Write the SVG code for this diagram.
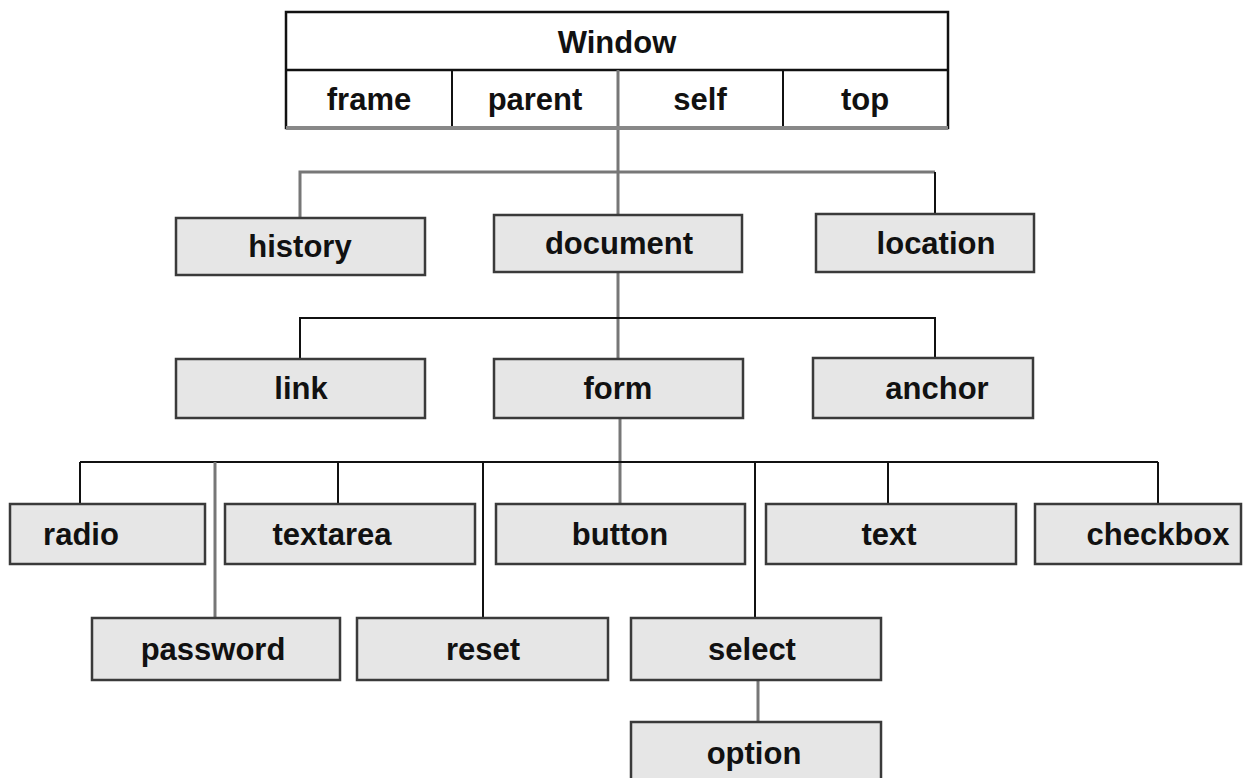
<svg xmlns="http://www.w3.org/2000/svg" width="1247" height="778" viewBox="0 0 1247 778">
<style>
.box{fill:#e6e6e6;stroke:#3a3a3a;stroke-width:2.5}
.win{fill:#ffffff;stroke:#111;stroke-width:2.5}
.lbl{font-family:"Liberation Sans",Arial,sans-serif;font-weight:bold;font-size:31px;fill:#111;text-anchor:middle}
.cg{stroke:#777;stroke-width:3;fill:none}
.cb{stroke:#111;stroke-width:2;fill:none}
</style>
<rect width="1247" height="778" fill="#ffffff"/>
<g id="connectors">
<line class="cg" x1="618" y1="70" x2="618" y2="215"/>
<polyline class="cg" points="300,218 300,172 935,172"/>
<line class="cb" x1="935" y1="172" x2="935" y2="214"/>
<line class="cg" x1="618" y1="272" x2="618" y2="359"/>
<polyline class="cb" points="300,359 300,318 935,318 935,358"/>
<line class="cg" x1="620" y1="418" x2="620" y2="504"/>
<line class="cb" x1="80" y1="462" x2="1158" y2="462"/>
<line class="cb" x1="80" y1="462" x2="80" y2="504"/>
<line class="cb" x1="338" y1="462" x2="338" y2="504"/>
<line class="cb" x1="888" y1="462" x2="888" y2="504"/>
<line class="cb" x1="1158" y1="462" x2="1158" y2="504"/>
<line class="cg" x1="215" y1="462" x2="215" y2="618"/>
<line class="cb" x1="483" y1="462" x2="483" y2="618"/>
<line class="cb" x1="755" y1="462" x2="755" y2="618" stroke-width="1.5"/>
<line class="cg" x1="758" y1="680" x2="758" y2="722"/>
</g>
<g id="window">
<rect class="win" x="286" y="12" width="662" height="116"/>
<line x1="286" y1="70" x2="948" y2="70" stroke="#111" stroke-width="2.5"/>
<line x1="452" y1="70" x2="452" y2="128" stroke="#111" stroke-width="2"/>
<line x1="618" y1="70" x2="618" y2="128" stroke="#777" stroke-width="3"/>
<line x1="783" y1="70" x2="783" y2="128" stroke="#111" stroke-width="2"/>
<line x1="286" y1="128" x2="948" y2="128" stroke="#888" stroke-width="4"/>
<text class="lbl" x="617" y="53">Window</text>
<text class="lbl" x="369" y="110">frame</text>
<text class="lbl" x="535" y="110">parent</text>
<text class="lbl" x="700" y="110">self</text>
<text class="lbl" x="865" y="110">top</text>
</g>
<g id="history"><rect class="box" x="176" y="218" width="249" height="57"/><text class="lbl" x="300" y="257">history</text></g>
<g id="document"><rect class="box" x="494" y="215" width="248" height="57"/><text class="lbl" x="619" y="254">document</text></g>
<g id="location"><rect class="box" x="816" y="214" width="218" height="58"/><text class="lbl" x="936" y="254">location</text></g>
<g id="link"><rect class="box" x="176" y="359" width="249" height="59"/><text class="lbl" x="301" y="399">link</text></g>
<g id="form"><rect class="box" x="494" y="359" width="249" height="59"/><text class="lbl" x="618" y="399">form</text></g>
<g id="anchor"><rect class="box" x="813" y="358" width="220" height="60"/><text class="lbl" x="937" y="399">anchor</text></g>
<g id="radio"><rect class="box" x="10" y="504" width="195" height="60"/><text class="lbl" x="81" y="545">radio</text></g>
<g id="textarea"><rect class="box" x="225" y="504" width="250" height="60"/><text class="lbl" x="332" y="545">textarea</text></g>
<g id="button"><rect class="box" x="496" y="504" width="249" height="60"/><text class="lbl" x="620" y="545">button</text></g>
<g id="text"><rect class="box" x="766" y="504" width="250" height="60"/><text class="lbl" x="889" y="545">text</text></g>
<g id="checkbox"><rect class="box" x="1035" y="504" width="206" height="60"/><text class="lbl" x="1158" y="545">checkbox</text></g>
<g id="password"><rect class="box" x="92" y="618" width="248" height="62"/><text class="lbl" x="213" y="660">password</text></g>
<g id="reset"><rect class="box" x="357" y="618" width="251" height="62"/><text class="lbl" x="483" y="660">reset</text></g>
<g id="select"><rect class="box" x="631" y="618" width="250" height="62"/><text class="lbl" x="752" y="660">select</text></g>
<g id="option"><rect class="box" x="631" y="722" width="250" height="70"/><text class="lbl" x="754" y="764">option</text></g>
</svg>
